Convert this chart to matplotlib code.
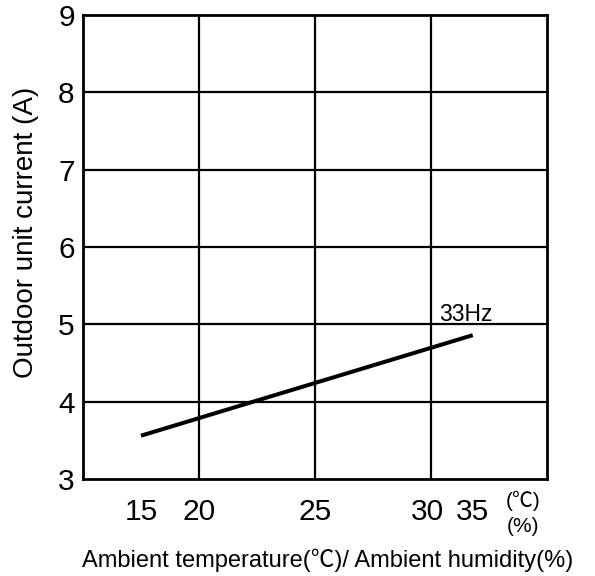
import matplotlib
matplotlib.use("Agg")
import matplotlib.pyplot as plt

plt.rcParams['font.family'] = ['Liberation Sans', 'Noto Sans CJK JP', 'DejaVu Sans']

# data
line_x = [17.5, 31.8]          # positions of the line ends on the axis
line_y = [3.56, 4.86]
series_label = "33Hz"
xtick_pos = [17.5, 20, 25, 29.85, 31.8]
xtick_labels = ["15", "20", "25", "30", "35"]
yticks = [3, 4, 5, 6, 7, 8, 9]
xgrid = [20, 25, 30]

fig = plt.figure(figsize=(5.95, 5.76), dpi=100)
ax = fig.add_axes([83/595, 1-479/576, (547-83)/595, (479-15)/576])
ax.set_xlim(15, 35)
ax.set_ylim(3, 9)

for g in xgrid:
    ax.axvline(g, color='black', lw=1.6, zorder=1)
for g in yticks[1:-1]:
    ax.axhline(g, color='black', lw=1.6, zorder=1)

ax.plot(line_x, line_y, color='black', lw=2.9, solid_capstyle='butt', zorder=3)
ax.text(line_x[1] - 1.45, line_y[1] + 0.12, series_label, fontsize=16.5, ha='left', va='bottom')

ax.set_xticks(xtick_pos)
ax.set_xticklabels(xtick_labels, fontsize=21.5)
ax.set_yticks(yticks)
ax.set_yticklabels([str(v) for v in yticks], fontsize=21.5)
ax.tick_params(axis='both', length=0)
ax.tick_params(axis='x', pad=14)
ax.tick_params(axis='y', pad=6)
for s in ax.spines.values():
    s.set_linewidth(2.0)

fig.text(26/595, 1-232/576, "Outdoor unit current (A)", fontsize=20, rotation=90,
         ha='center', va='center')

fig.text(523/595, 1-501/576, "(\u2103)", fontsize=15, ha='center', va='center')
fig.text(523/595, 1-526/576, "(%)", fontsize=15, ha='center', va='center')
fig.text(328/595, 1-560/576, "Ambient temperature(\u2103)/ Ambient humidity(%)", fontsize=17,
         ha='center', va='center')

fig.savefig("out.png", dpi=100)
